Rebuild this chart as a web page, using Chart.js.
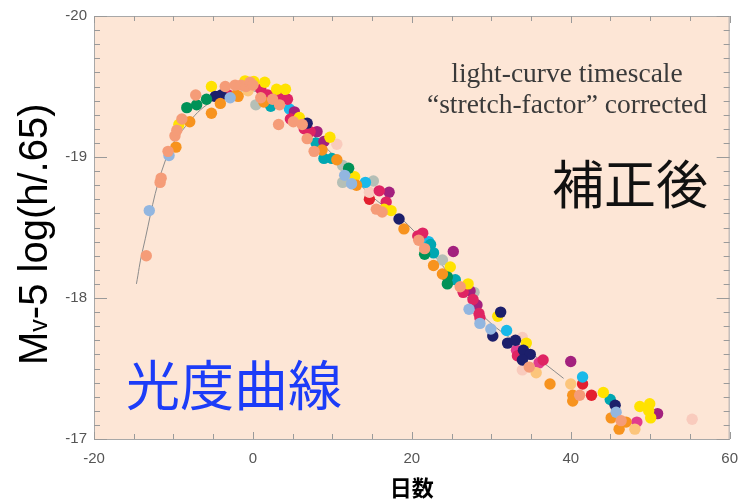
<!DOCTYPE html>
<html>
<head>
<meta charset="utf-8">
<script src="https://cdn.jsdelivr.net/npm/chart.js@4/dist/chart.umd.min.js"></script>
<style>
  html, body { margin: 0; padding: 0; background: #ffffff; }
  #wrap { width: 749px; height: 502px; }
</style>
</head>
<body>
<div id="wrap"><canvas id="c" width="749" height="502"></canvas></div>
<script>
// Type Ia supernova light curves, time axis corrected by the stretch factor.
// Each series: [day from maximum, Mv - 5 log(h/.65)]
const salmon = [[-13.42,-18.30],[-11.68,-18.82],[-11.55,-18.85],[-10.68,-19.04],[-9.81,-19.15],[-9.57,-19.19],
  [-8.94,-19.27],[-7.20,-19.44],[-3.48,-19.50],[-2.24,-19.51],[-1.49,-19.51],[-0.87,-19.50],[-0.37,-19.53],
  [0.00,-19.51],[0.99,-19.42],[2.48,-19.41],[3.35,-19.37],[5.09,-19.25],[3.23,-19.23],[6.21,-19.23],
  [6.83,-19.13],[7.70,-19.04],[15.53,-18.63],[16.27,-18.61],[20.87,-18.41],[21.61,-18.35],[26.09,-18.08],
  [34.78,-17.51],[41.12,-17.31],[46.34,-17.13]];
const lightBlue = [[-13.04,-18.62],[-10.56,-19.01],[-2.86,-19.42],[11.55,-18.87],[12.42,-18.81],[27.20,-17.92],
  [28.57,-17.82],[29.94,-17.78],[45.71,-17.19]];
const orange = [[-9.69,-19.07],[-7.95,-19.25],[-5.22,-19.31],[-4.10,-19.38],[-2.11,-19.44],[-1.86,-19.43],[1.37,-19.39],
  [8.70,-19.05],[10.56,-18.98],[13.04,-18.80],[19.01,-18.49],[22.73,-18.23],[23.85,-18.17],[37.39,-17.39],
  [40.25,-17.31],[40.25,-17.27],[45.09,-17.15],[46.96,-17.12],[46.09,-17.07]];
const green = [[-8.32,-19.35],[-7.08,-19.37],[-5.84,-19.41],[12.05,-18.92],[21.61,-18.31],[24.47,-18.15],[24.47,-18.10]];
const navy = [[-4.72,-19.43],[-3.98,-19.44],[6.83,-19.24],[18.39,-18.56],[31.18,-17.90],[30.19,-17.73],
  [32.05,-17.68],[33.04,-17.70],[34.04,-17.63],[34.91,-17.60],[33.91,-17.56],[45.59,-17.24]];
const yellow = [[-9.32,-19.23],[-5.22,-19.50],[-0.99,-19.54],[0.12,-19.535],[1.49,-19.53],[2.98,-19.48],[4.10,-19.48],
  [5.84,-19.28],[9.69,-19.14],[12.80,-18.86],[16.52,-18.63],[17.39,-18.62],[24.84,-18.22],[27.08,-18.10],
  [30.81,-17.87],[34.41,-17.68],[44.10,-17.33],[48.70,-17.23],[49.94,-17.25],[49.81,-17.20],[50.06,-17.15]];
const crimson = [[-3.11,-19.44],[0.99,-19.48],[1.86,-19.44],[3.10,-19.47],[3.48,-19.41],[4.35,-19.41],[4.72,-19.27],
  [6.46,-19.20],[7.20,-19.18],[15.90,-18.76],[16.77,-18.68],[20.75,-18.44],[21.37,-18.46],[26.46,-18.04],
  [27.70,-17.99],[28.45,-17.89],[28.57,-17.86],[33.29,-17.59],[36.52,-17.56]];
const purple = [[5.22,-19.32],[8.07,-19.18],[8.94,-19.11],[17.14,-18.75],[25.22,-18.33],[27.33,-18.05],
  [28.20,-17.95],[40.00,-17.55],[50.93,-17.18]];
const teal = [[1.24,-19.42],[2.24,-19.36],[7.95,-19.10],[8.94,-18.99],[9.94,-18.99],[22.36,-18.38],
  [22.73,-18.32],[25.47,-18.13],[44.97,-17.28]];
const cyan = [[4.60,-19.34],[14.16,-18.82],[22.11,-18.40],[31.93,-17.77],[41.49,-17.44]];
const grey = [[0.37,-19.37],[11.30,-18.94],[11.30,-18.82],[15.16,-18.83],[23.85,-18.27],[27.83,-18.04]];
const lightPeach = [[-2.11,-19.49],[10.56,-19.09],[14.66,-18.75],[33.91,-17.72],[33.91,-17.49],[55.28,-17.14]];
const lightOrange = [[-0.62,-19.47],[35.65,-17.47],[40.00,-17.39],[48.07,-17.07]];
const red = [[14.66,-18.70],[21.74,-18.33],[41.49,-17.39],[42.61,-17.31]];
const pink = [[33.17,-17.63],[36.02,-17.54],[48.32,-17.12]];

// Template light curve
const templateDays = [-14.66, -13.91, -10.93, -8, -5, -2, 0, 3, 6, 10, 15, 19.5, 25, 29.2, 35, 39.1];
const templateMags = [-18.10, -18.33, -18.99, -19.25, -19.40, -19.46, -19.47, -19.40, -19.24, -19.02, -18.72, -18.52, -18.15, -17.86, -17.61, -17.43];

// Axis tick labels
const xTickLabels = ['-20', '0', '20', '40', '60'];
const yTickLabels = ['-20', '-19', '-18', '-17'];

const seriesList = [
  ['salmon', salmon], ['lightBlue', lightBlue], ['orange', orange], ['green', green], ['navy', navy],
  ['yellow', yellow], ['crimson', crimson], ['purple', purple], ['teal', teal], ['cyan', cyan],
  ['grey', grey], ['lightPeach', lightPeach], ['lightOrange', lightOrange], ['red', red], ['pink', pink]
];

const palette = {
  salmon: '#f59c78', lightBlue: '#92b6e0', orange: '#f7931e', green: '#009257', navy: '#1c1f6b',
  yellow: '#ffe200', crimson: '#df2463', purple: '#a3217e', teal: '#00a7b2', cyan: '#19b9e9',
  grey: '#b5bfb6', lightPeach: '#f9cbbd', lightOrange: '#fcc57b', red: '#e3202f', pink: '#e23c8e'
};

const PLOT_BG = '#fde6d6';
const TICK_COLOR = '#9a9a9a';

const datasets = [{
  type: 'line',
  label: 'template',
  data: templateDays.map((d, i) => ({ x: d, y: templateMags[i] })),
  borderColor: '#8c8c8c',
  borderWidth: 1,
  pointRadius: 0,
  tension: 0.4,
  fill: false,
  order: 1
}];
seriesList.forEach(([name, pts]) => {
  datasets.push({
    label: name,
    data: pts.map(p => ({ x: p[0], y: p[1] })),
    backgroundColor: palette[name],
    borderWidth: 0,
    pointRadius: 5.7,
    pointHoverRadius: 5.7,
    order: 0
  });
});

const framePlugin = {
  id: 'frame',
  beforeDraw(chart) {
    const a = chart.chartArea, ctx = chart.ctx;
    ctx.save();
    ctx.fillStyle = PLOT_BG;
    ctx.fillRect(a.left, a.top, a.right - a.left, a.bottom - a.top);
    ctx.restore();
  },
  afterDraw(chart) {
    const a = chart.chartArea, ctx = chart.ctx;
    const xs = chart.scales.x, ys = chart.scales.y;
    ctx.save();
    // frame
    ctx.strokeStyle = '#a8a8a8';
    ctx.lineWidth = 1;
    ctx.strokeRect(a.left + 0.5, a.top + 0.5, a.right - a.left - 1, a.bottom - a.top);
    // x ticks (top and bottom, pointing inward)
    ctx.strokeStyle = TICK_COLOR;
    ctx.beginPath();
    for (let v = xs.min; v <= xs.max + 1e-9; v += 5) {
      const px = Math.round(xs.getPixelForValue(v)) + 0.5;
      const len = (Math.abs(v % 20) < 1e-9) ? 7 : 5;
      ctx.moveTo(px, a.bottom); ctx.lineTo(px, a.bottom - len);
      ctx.moveTo(px, a.top); ctx.lineTo(px, a.top + len);
    }
    // y ticks (left and right, pointing inward)
    for (let k = 0; k <= 30; k++) {
      const v = ys.min + k * 0.1;
      const py = Math.round(ys.getPixelForValue(v)) + 0.5;
      const len = (k % 10 === 0) ? 13 : 6;
      ctx.moveTo(a.left, py); ctx.lineTo(a.left + len, py);
      ctx.moveTo(a.right, py); ctx.lineTo(a.right - len, py);
    }
    ctx.stroke();

    // y-axis title: M with small v, then the rest
    ctx.fillStyle = '#000';
    ctx.translate(47, 365);
    ctx.rotate(-Math.PI / 2);
    ctx.textAlign = 'left';
    ctx.textBaseline = 'alphabetic';
    ctx.font = '40px "Liberation Sans", Arial, sans-serif';
    ctx.fillText('M', 0, 0);
    let w = ctx.measureText('M').width;
    ctx.font = '25px "Liberation Sans", Arial, sans-serif';
    ctx.fillText('v', w, 0);
    w += ctx.measureText('v').width;
    ctx.font = '40px "Liberation Sans", Arial, sans-serif';
    ctx.fillText('-5 log(h/.65)', w, 0);
    ctx.setTransform(1, 0, 0, 1, 0, 0);

    // x-axis title
    ctx.textAlign = 'center';
    ctx.textBaseline = 'middle';
    ctx.font = 'bold 22px "Noto Sans CJK JP", sans-serif';
    ctx.fillStyle = '#000';
    ctx.fillText('日数', (a.left + a.right) / 2, 488);

    // annotations
    ctx.textBaseline = 'alphabetic';
    ctx.fillStyle = '#3a3a3a';
    ctx.font = '27.5px "Liberation Serif", "Times New Roman", serif';
    ctx.fillText('light-curve timescale', 567, 82);
    ctx.fillText('\u201Cstretch-factor\u201D corrected', 567, 113);

    ctx.textBaseline = 'middle';
    ctx.fillStyle = '#111';
    ctx.font = '52px "Noto Sans CJK JP", sans-serif';
    ctx.fillText('補正後', 630, 184);

    ctx.fillStyle = '#1c3cf8';
    ctx.font = '54px "Noto Sans CJK JP", sans-serif';
    ctx.fillText('光度曲線', 234, 385);
    ctx.restore();
  }
};

function build() {
  new Chart(document.getElementById('c'), {
    type: 'scatter',
    data: { datasets },
    options: {
      responsive: false,
      animation: false,
      devicePixelRatio: 1,
      layout: { padding: { left: 0, top: 13, right: 11, bottom: 0 } },
      plugins: { legend: { display: false }, tooltip: { enabled: false } },
      events: [],
      scales: {
        x: {
          type: 'linear', position: 'bottom', min: -20, max: 60,
          grid: { display: false, drawTicks: false },
          border: { display: false },
          ticks: {
            stepSize: 20, padding: 11, maxRotation: 0, color: '#555',
            font: { family: '"Liberation Sans", Arial, sans-serif', size: 15 },
            callback: (v) => xTickLabels[Math.round((v + 20) / 20)]
          },
          afterFit: (s) => { s.height = 63; }
        },
        y: {
          type: 'linear', position: 'left', min: -20, max: -17, reverse: true,
          grid: { display: false, drawTicks: false },
          border: { display: false },
          ticks: {
            stepSize: 1, padding: 7, color: '#555',
            font: { family: '"Liberation Sans", Arial, sans-serif', size: 15 },
            callback: (v) => yTickLabels[Math.round(v + 20)]
          },
          afterFit: (s) => { s.width = 94; }
        }
      }
    },
    plugins: [framePlugin]
  });
}

Promise.all([
  document.fonts.load('52px "Noto Sans CJK JP"', '補正後光度曲線'),
  document.fonts.load('bold 22px "Noto Sans CJK JP"', '日数'),
  document.fonts.load('26px "Liberation Serif"', 'light'),
  document.fonts.load('40px "Liberation Sans"', 'M')
]).then(build, build);
</script>
</body>
</html>
